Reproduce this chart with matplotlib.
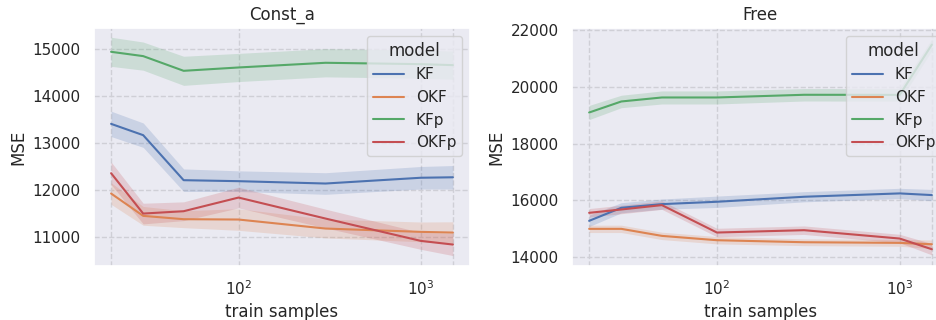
import numpy as np
import matplotlib
matplotlib.use("Agg")
import matplotlib.pyplot as plt
import seaborn as sns

# train sample sizes (log x axis)
train_samples = [20, 30, 50, 100, 300, 1000, 1500]
models = ["KF", "OKF", "KFp", "OKFp"]

# Const_a : mean MSE and half width of the band
const_mean = {
    "KF":   [13408, 13167, 12208, 12187, 12137, 12260, 12270],
    "OKF":  [11924, 11448, 11377, 11370, 11178, 11107, 11092],
    "KFp":  [14943, 14851, 14538, 14609, 14709, 14680, 14659],
    "OKFp": [12357, 11497, 11547, 11838, 11391, 10915, 10837],
}
const_ci = {
    "KF":   [270, 260, 240, 220, 230, 240, 250],
    "OKF":  [230, 200, 180, 230, 200, 210, 230],
    "KFp":  [310, 300, 310, 300, 300, 300, 300],
    "OKFp": [240, 220, 200, 220, 200, 180, 235],
}

# Free
free_mean = {
    "KF":   [15274, 15735, 15864, 15947, 16124, 16242, 16183],
    "OKF":  [14991, 14991, 14743, 14590, 14519, 14496, 14448],
    "KFp":  [19097, 19487, 19628, 19628, 19723, 19720, 21493],
    "OKFp": [15557, 15675, 15829, 14861, 14944, 14649, 14271],
}
free_ci = {
    "KF":   [200, 180, 180, 200, 180, 180, 200],
    "OKF":  [130, 130, 130, 130, 120, 120, 150],
    "KFp":  [250, 220, 230, 230, 220, 220, 200],
    "OKFp": [150, 150, 150, 150, 150, 150, 200],
}

sns.set_theme(style="darkgrid")
colors = sns.color_palette("deep")[:4]

fig = plt.figure(figsize=(9.37, 3.2), dpi=100)
ax1 = fig.add_axes([94 / 937, 54 / 320, 376 / 937, 238 / 320])
ax2 = fig.add_axes([572 / 937, 54 / 320, 377 / 937, 238 / 320])


def draw(ax, means, cis, title, ylim):
    x = np.array(train_samples)
    for m, c in zip(models, colors):
        y = np.array(means[m])
        e = np.array(cis[m])
        ax.fill_between(x, y - e, y + e, color=c, alpha=0.2, linewidth=0)
        ax.plot(x, y, color=c, linewidth=1.5, label=m)
    ax.set_xscale("log")
    ax.set_ylim(*ylim)
    ax.grid(True, linestyle="--", color="#cfcfd6", linewidth=1)
    ax.axvline(train_samples[0], linestyle="--", color="#cfcfd6", linewidth=1, zorder=0.5)
    ax.axvline(train_samples[-1], linestyle="--", color="#cfcfd6", linewidth=1, zorder=0.5)
    ax.set_title(title)
    ax.set_xlabel("train samples")
    ax.set_ylabel("MSE")
    ax.legend(title="model", loc="upper right")


draw(ax1, const_mean, const_ci, "Const_a", (10380, 15450))
draw(ax2, free_mean, free_ci, "Free", (13680, 22080))
ax2.set_yticks([14000, 16000, 18000, 20000, 22000])

fig.savefig("out.png", dpi=100)
